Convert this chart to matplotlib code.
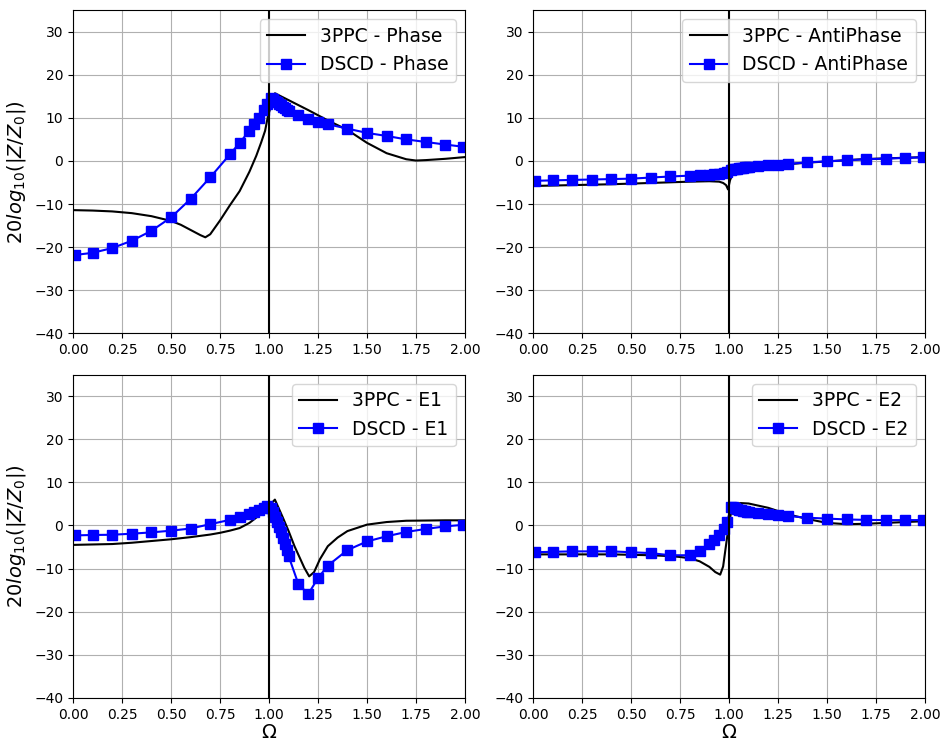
import numpy as np
import matplotlib
matplotlib.use("Agg")
from matplotlib import pyplot as plt

# DSCD sample frequencies (shared by all four cases)
x_dscd = [0.01, 0.1, 0.2, 0.3, 0.4, 0.5, 0.6, 0.7, 0.8, 0.85, 0.9, 0.925, 0.95, 0.975, 0.99,
          1.01, 1.02, 1.03, 1.04, 1.05, 1.06, 1.07, 1.08, 1.09, 1.1,
          1.15, 1.2, 1.25, 1.3, 1.4, 1.5, 1.6, 1.7, 1.8, 1.9, 1.99]

dscd_phase = [-21.8, -21.3, -20.2, -18.5, -16.2, -13.1, -8.8, -3.8, 1.5, 4.2, 7.0, 8.5, 10.0, 11.8, 13.2,
              14.6, 14.3, 14.0, 13.6, 13.2, 12.9, 12.5, 12.2, 11.9, 11.6,
              10.7, 9.8, 9.1, 8.5, 7.5, 6.5, 5.8, 5.0, 4.4, 3.8, 3.3]
dscd_anti = [-4.6, -4.5, -4.4, -4.3, -4.2, -4.1, -3.85, -3.6, -3.4, -3.3, -3.2, -3.1, -3.0, -2.8, -2.6,
             -2.0, -1.9, -1.8, -1.75, -1.7, -1.6, -1.55, -1.5, -1.45, -1.4,
             -1.2, -1.0, -0.85, -0.7, -0.3, -0.1, 0.15, 0.4, 0.55, 0.7, 0.85]
dscd_e1 = [-2.3, -2.2, -2.15, -1.9, -1.6, -1.2, -0.7, 0.3, 1.3, 2.0, 2.7, 3.1, 3.6, 4.0, 4.5,
           4.0, 3.2, 2.0, 0.8, -0.4, -1.6, -2.9, -4.2, -5.6, -7.1,
           -13.6, -15.9, -12.2, -9.3, -5.7, -3.7, -2.5, -1.5, -0.8, -0.2, 0.15]
dscd_e2 = [-6.2, -6.1, -6.0, -6.0, -6.0, -6.2, -6.4, -6.9, -6.9, -5.9, -4.4, -3.4, -2.3, -0.9, 0.8,
           4.3, 4.2, 4.0, 3.9, 3.7, 3.6, 3.4, 3.3, 3.2, 3.1,
           2.8, 2.6, 2.4, 2.2, 1.8, 1.6, 1.4, 1.3, 1.25, 1.25, 1.25]

# 3PPC curves
x_ppc_phase = [0, 0.1, 0.2, 0.3, 0.4, 0.5, 0.55, 0.6, 0.65, 0.675, 0.7, 0.75, 0.8, 0.85, 0.9,
               0.935, 0.96, 0.98, 0.995, 1.03, 1.1, 1.2, 1.3, 1.4, 1.5, 1.6, 1.7, 1.75, 1.8, 1.9, 2.0]
ppc_phase = [-11.4, -11.5, -11.7, -12.1, -12.8, -13.9, -14.8, -16.0, -17.2, -17.7, -17.0, -13.8,
             -10.3, -7.0, -2.5, 1.2, 4.3, 7.0, 10.5, 15.7, 14.1, 11.8, 9.4, 7.2, 4.2, 1.8, 0.4,
             0.1, 0.2, 0.5, 0.9]

x_ppc_anti = [0, 0.2, 0.4, 0.6, 0.8, 0.9, 0.95, 0.97, 0.985, 0.995, 1.005, 1.02, 1.05, 1.1,
              1.2, 1.3, 1.4, 1.5, 1.6, 1.7, 1.8, 1.9, 2.0]
ppc_anti = [-5.8, -5.6, -5.4, -5.1, -4.8, -4.7, -4.8, -5.1, -5.6, -6.6, -4.5, -2.8, -2.0, -1.6,
            -1.1, -0.75, -0.4, -0.1, 0.2, 0.45, 0.6, 0.75, 0.9]

x_ppc_e1 = [0, 0.1, 0.2, 0.3, 0.4, 0.5, 0.6, 0.7, 0.75, 0.8, 0.85, 0.9, 0.94, 0.97, 0.995, 1.03,
            1.07, 1.1, 1.13, 1.155, 1.18, 1.205, 1.23, 1.26, 1.3, 1.35, 1.4, 1.5, 1.6, 1.7,
            1.8, 1.9, 2.0]
ppc_e1 = [-4.5, -4.4, -4.3, -4.0, -3.6, -3.2, -2.7, -2.1, -1.7, -1.2, -0.6, 0.6, 2.0, 3.2, 4.3,
          6.0, 1.9, -1.3, -4.8, -7.3, -9.8, -11.8, -10.8, -7.8, -4.8, -2.8, -1.3, 0.2, 0.8,
          1.1, 1.15, 1.2, 1.2]

x_ppc_e2 = [0, 0.2, 0.4, 0.5, 0.6, 0.7, 0.75, 0.8, 0.85, 0.9, 0.93, 0.955, 0.97, 0.985, 1.0,
            1.015, 1.03, 1.06, 1.1, 1.2, 1.3, 1.4, 1.5, 1.6, 1.7, 1.8, 1.9, 2.0]
ppc_e2 = [-6.7, -6.7, -6.7, -6.8, -6.9, -7.1, -7.3, -7.6, -8.3, -9.6, -10.8, -11.4, -9.5, -4.5,
          0.5, 4.0, 4.9, 5.2, 5.1, 4.1, 2.6, 1.5, 0.6, 0.3, 0.4, 0.6, 0.8, 1.0]

cases = [
    ("Phase", x_ppc_phase, ppc_phase, dscd_phase),
    ("AntiPhase", x_ppc_anti, ppc_anti, dscd_anti),
    ("E1", x_ppc_e1, ppc_e1, dscd_e1),
    ("E2", x_ppc_e2, ppc_e2, dscd_e2),
]

fig, axes = plt.subplots(2, 2, figsize=(9.41, 7.42), dpi=100)
fig.subplots_adjust(left=0.0776, right=0.983, top=0.9865, bottom=0.0593,
                    wspace=0.1735, hspace=0.127)

for i, (name, xp, yp, yd) in enumerate(cases):
    ax = axes.flat[i]
    ax.plot(xp, yp, color="black", lw=1.5, label=f"3PPC - {name}")
    ax.plot(x_dscd, yd, color="blue", marker="s", markersize=7, lw=1.5, label=f"DSCD - {name}")
    ax.axvline(1.0, color="black", lw=1.5)
    ax.set_xlim(0, 2)
    ax.set_ylim(-40, 35)
    ax.set_xticks(np.arange(0, 2.01, 0.25))
    ax.set_yticks(np.arange(-40, 31, 10))
    ax.grid(True)
    ax.legend(loc="upper right", fontsize=13.5)
    if i % 2 == 0:
        ax.set_ylabel(r"$20log_{10}(|Z/Z_0|)$", fontsize=14)
    if i >= 2:
        ax.set_xlabel(r"$\Omega$", fontsize=14, labelpad=1)

plt.savefig("out.png")
